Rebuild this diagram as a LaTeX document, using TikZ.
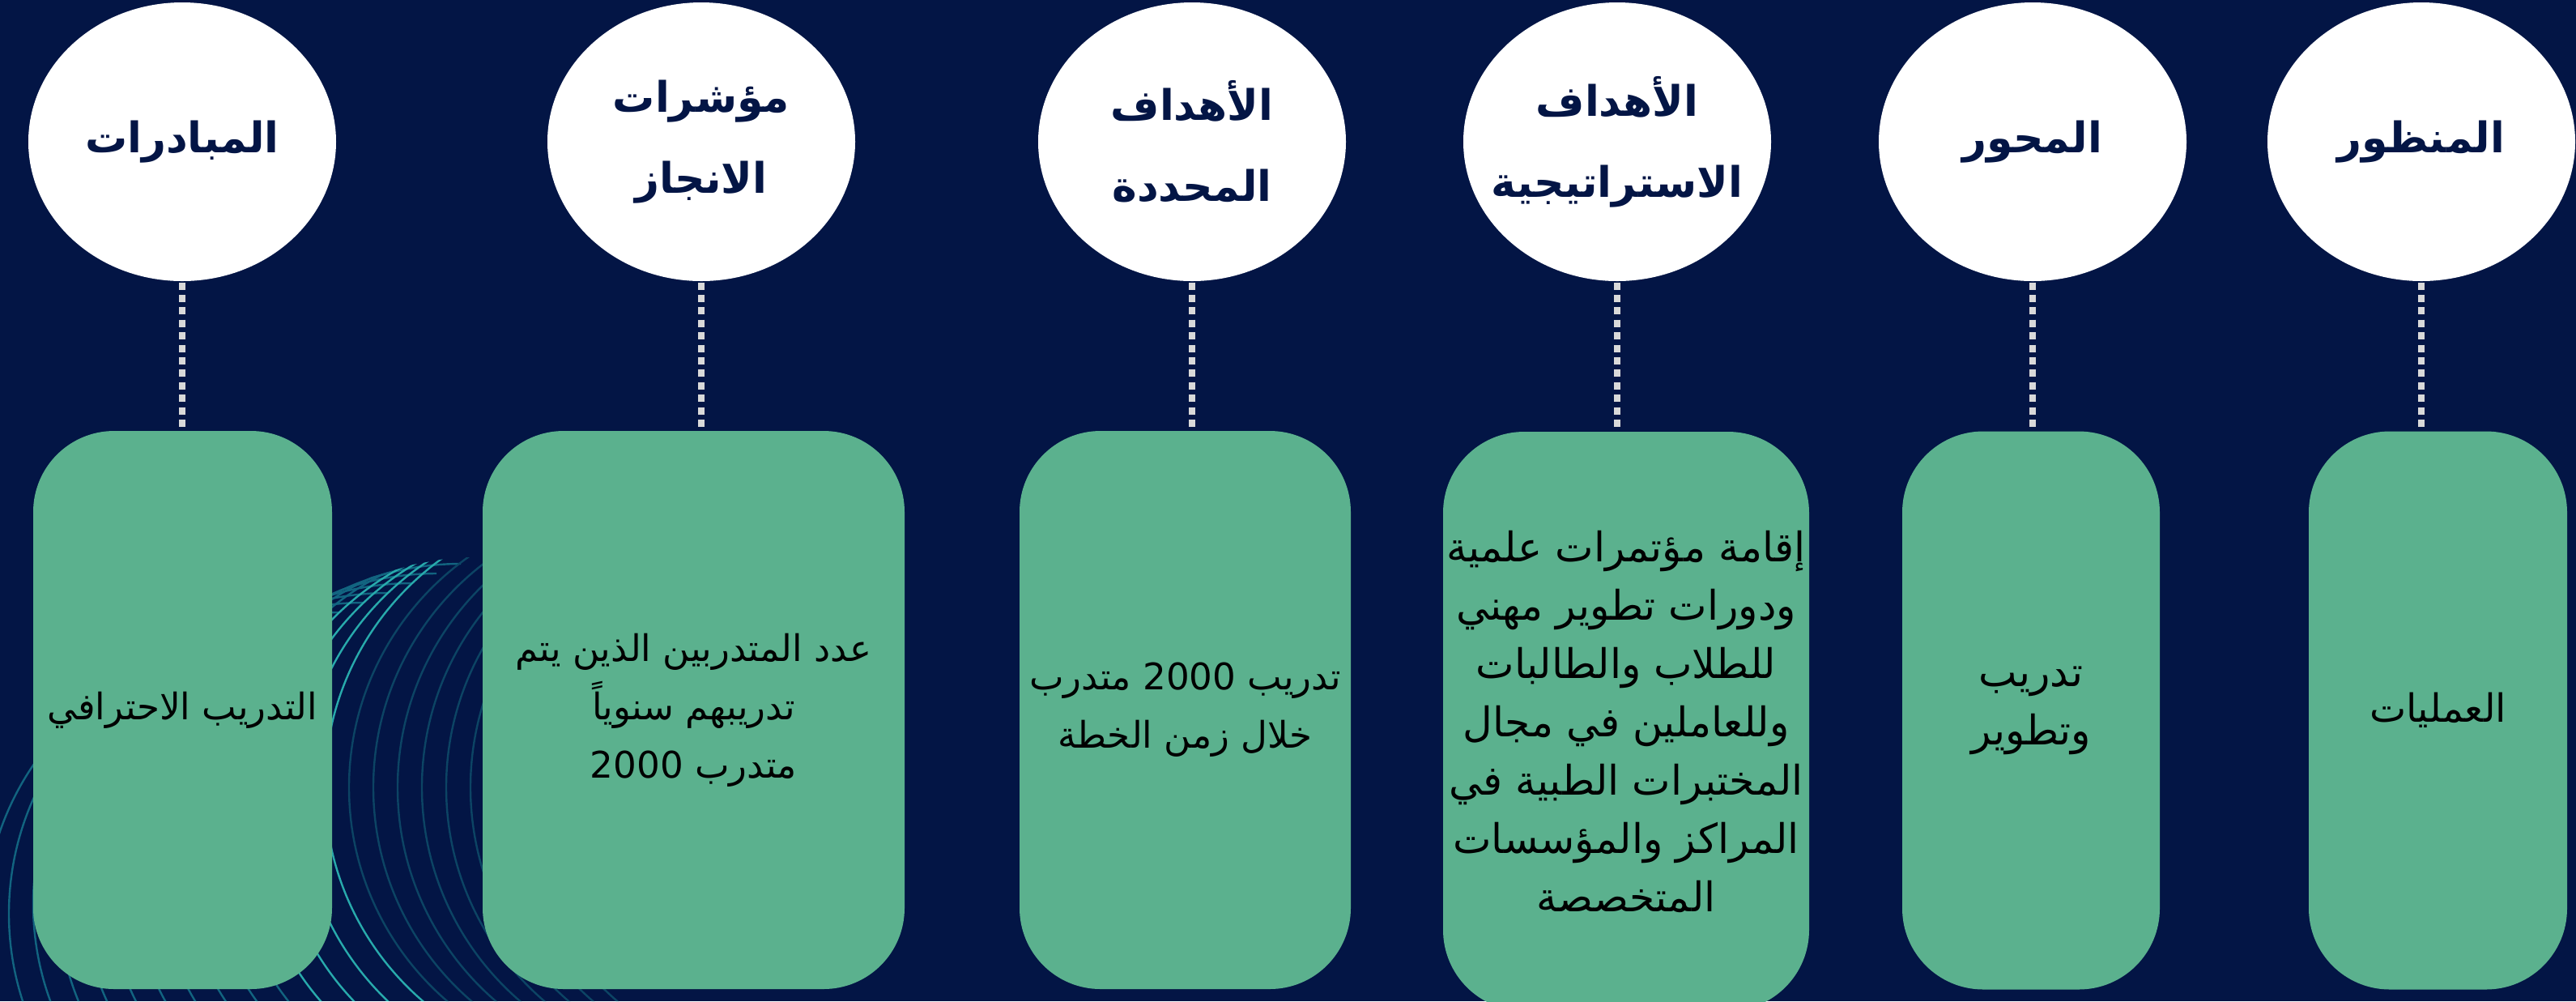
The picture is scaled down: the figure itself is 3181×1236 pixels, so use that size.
\documentclass[tikz,border=0pt]{standalone}
\usepackage{fontspec}
\usepackage{tikz}
\usetikzlibrary{shapes.geometric}
\TeXXeTstate=1
\newfontfamily\arabicfont[Script=Arabic]{DejaVu Sans}
\newcommand{\ar}[1]{\beginR #1\endR}
\newcommand{\nm}[1]{\beginL #1\endL}

\definecolor{bgnavy}{RGB}{3,21,69}
\definecolor{cardgreen}{RGB}{91,177,142}
\definecolor{dashgrey}{RGB}{217,217,217}
\definecolor{swirlhi}{RGB}{40,170,172}
\definecolor{swirlmid}{RGB}{18,100,128}
\definecolor{swirllo}{RGB}{12,68,100}

\tikzset{every picture/.style={line width=0.75pt}}
\tikzset{
  head/.style={ellipse, fill=white, inner sep=0pt, minimum width=95pt, minimum height=86pt},
  headtext/.style={inner sep=0pt, align=center, text=bgnavy, font=\arabicfont\bfseries\fontsize{13}{25}\selectfont},
  card/.style={rectangle, rounded corners=25pt, fill=cardgreen, inner sep=0pt,
    minimum height=172.25pt, align=center, text=black, font=\arabicfont\fontsize{11.3}{18}\selectfont},
  dots/.style={dashgrey, line width=2pt, dash pattern=on 2.25pt off 1.6pt},
}

\begin{document}
\begin{tikzpicture}[x=0.25pt,y=0.25pt,yscale=-1,xscale=1]
\useasboundingbox (0,0) rectangle (3181,1236);
%Shape: Background
\fill [bgnavy] (0,0) rectangle (3181,1236);

%Curve Lines: swirl behind the left cards
\begin{scope}
\clip (0,935) -- (380,745) -- (449,715) -- (510,697) -- (560,688) -- (1250,688) -- (1250,1236) -- (0,1236) -- cycle;
\foreach \j in {-14,...,8}{
  \pgfmathsetmacro\cx{749+30*\j}
  \pgfmathsetmacro\cy{972-12*min(\j,0)}
  \ifnum\j>-4 \ifnum\j<1 \def\swc{swirlhi}\else\def\swc{swirllo}\fi\else\def\swc{swirlmid}\fi
  \draw [\swc, line width=0.6pt] (\cx,\cy) ++(90:348) arc [start angle=90, end angle=270, radius=348];
}
\end{scope}

% Head nodes
\node [head] (hInit) at (225,175) {};
\node [head] (hKpi) at (866,175) {};
\node [head] (hTarget) at (1472,175) {};
\node [head] (hStrat) at (1997,175) {};
\node [head] (hAxis) at (2510,175) {};
\node [head] (hView) at (2990,175) {};
% Text Node
\node [headtext] (tInit) at (hInit) {\ar{المبادرات}};
\node [headtext] (tKpi) at (hKpi) {\ar{مؤشرات}\\\ar{الانجاز}};
\node [headtext] (tTarget) at (hTarget) {\ar{الأهداف}\\\ar{المحددة}};
\node [headtext] (tStrat) at (hStrat) {\ar{الأهداف}\\\ar{الاستراتيجية}};
\node [headtext] (tAxis) at (hAxis) {\ar{المحور}};
\node [headtext] (tView) at (hView) {\ar{المنظور}};

% Card nodes
\node [card, minimum width=92.25pt] (bInit) at (225.5,876.5) {\ar{التدريب الاحترافي}};
\node [card, minimum width=130.25pt] (bKpi) at (856.5,876.5) {\ar{عدد المتدربين الذين يتم}\\\ar{تدريبهم سنوياً}\\\ar{متدرب \nm{2000}}};
\node [card, minimum width=102.25pt] (bTarget) at (1463.5,876.5) {\ar{تدريب \nm{2000} متدرب}\\\ar{خلال زمن الخطة}};
\node [card, minimum width=113pt, minimum height=178.75pt, font=\arabicfont\fontsize{12.6}{18}\selectfont] (bStrat) at (2008,890.5) {\ar{إقامة مؤتمرات علمية}\\\ar{ودورات تطوير مهني}\\\ar{للطلاب والطالبات}\\\ar{وللعاملين في مجال}\\\ar{المختبرات الطبية في}\\\ar{المراكز والمؤسسات}\\\ar{المتخصصة}};
\node [card, minimum width=79.5pt, font=\arabicfont\fontsize{12.6}{18}\selectfont] (bAxis) at (2508,877) {\ar{تدريب}\\\ar{وتطوير}};
\node [card, minimum width=79.75pt, font=\arabicfont\fontsize{12}{18}\selectfont] (bView) at (3010.5,877) {\ar{العمليات}};

% Dotted links
\draw [dots] (hInit.south) -- (hInit.south |- bInit.north);
\draw [dots] (hKpi.south) -- (hKpi.south |- bKpi.north);
\draw [dots] (hTarget.south) -- (hTarget.south |- bTarget.north);
\draw [dots] (hStrat.south) -- (hStrat.south |- bStrat.north);
\draw [dots] (hAxis.south) -- (hAxis.south |- bAxis.north);
\draw [dots] (hView.south) -- (hView.south |- bView.north);
\end{tikzpicture}
\end{document}
